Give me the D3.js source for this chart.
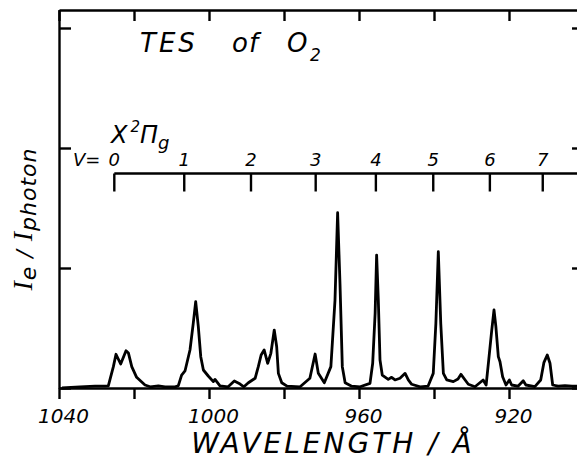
<!DOCTYPE html>
<html>
<head>
<meta charset="utf-8">
<script src="https://cdn.jsdelivr.net/npm/d3@7"></script>
<style>
    html, body { margin: 0; padding: 0; background: #fff; }
    svg { display: block; }
    .lbl { font-family: "DejaVu Sans", sans-serif; font-style: italic; fill: #000; }
</style>
</head>
<body>
<div id="chart"></div>
<script>
// wavelength (Å) and electron yield
const wavelength = [
    1039.2, 1034.4, 1030.4, 1027.7,
    1026.85, 1025.5, 1024.8, 1023.55, 1022.13, 1021.5, 1020.6, 1019.3, 1017.07, 1015.7, 1013.5, 1011.7, 1009.1,
    1008.2, 1007.3, 1006.4, 1005.07, 1004.2, 1003.55, 1002.85, 1002.2, 1001.5, 1000.2, 998.85, 998.4, 997.07, 994.9, 993.25, 991.7, 990.7,
    989.5, 987.7, 986.85, 986.1, 985.3, 984.35, 983.5, 982.6, 981.95, 981.5, 980.6, 979.2, 975.7,
    973.1, 971.7, 970.85, 969.25, 967.5, 966.4, 965.7, 965.07, 964.45, 963.7, 961.95, 959.7,
    957.07, 956.35, 955.7, 955.3, 954.85, 954.4, 953.8, 952.2, 951.3, 950.4, 949.07, 947.7, 946.85, 945.95, 943.7, 941.6,
    940.2, 939.5, 938.85, 938.2, 937.5, 936.6, 934.85, 933.6, 932.8, 931.7, 930.85, 929.07,
    926.9, 926.1, 925.5, 924.6, 924.0, 923.5, 922.85, 922.4, 921.7, 920.8, 919.9, 919.3, 917.6, 916.2, 915.5, 913.1,
    911.55, 910.7, 909.8, 909.07, 908.35, 906.9, 905.07, 903.2, 901.1, 900
];
const intensity = [
    0.0, 0.01, 0.015, 0.015,
    0.017, 0.178, 0.281, 0.2, 0.311, 0.292, 0.178, 0.089, 0.025, 0.01, 0.017, 0.01, 0.01,
    0.017, 0.108, 0.142, 0.317, 0.539, 0.719, 0.511, 0.261, 0.15, 0.1, 0.053, 0.072, 0.017, 0.01, 0.058, 0.033, 0.01,
    0.044, 0.081, 0.178, 0.275, 0.317, 0.206, 0.289, 0.483, 0.344, 0.122, 0.044, 0.015, 0.01,
    0.081, 0.283, 0.122, 0.044, 0.178, 0.733, 1.461, 0.872, 0.178, 0.044, 0.015, 0.01,
    0.039, 0.206, 0.622, 1.108, 0.733, 0.233, 0.108, 0.072, 0.089, 0.067, 0.081, 0.122, 0.067, 0.031, 0.01, 0.015,
    0.122, 0.539, 1.136, 0.539, 0.122, 0.067, 0.053, 0.075, 0.114, 0.067, 0.031, 0.01,
    0.067, 0.025, 0.206, 0.483, 0.65, 0.511, 0.261, 0.219, 0.094, 0.025, 0.067, 0.025, 0.015, 0.061, 0.025, 0.012,
    0.067, 0.211, 0.275, 0.206, 0.025, 0.015, 0.02, 0.015, 0.015, 0.01
];

const xTicks = [1040, 1020, 1000, 980, 960, 940, 920, 900];
const xTickLabels = [1040, 1000, 960, 920];
const yTicks = [0, 1, 2, 3];

// vibrational levels of the ion, X 2Pi_g
const vLevels = [0, 1, 2, 3, 4, 5, 6, 7];
const vWavelength = [1025.25, 1006.6, 988.8, 971.55, 955.5, 940.2, 925.1, 911.0];

const width = 577;
const height = 465;

function render() {
    const svg = d3.select('#chart')
        .append('svg')
        .attr('width', width)
        .attr('height', height);

    const xScale = d3.scaleLinear()
        .domain([1040, 900])
        .range([59, 584]);

    const yScale = d3.scaleLinear()
        .domain([0, 3.15])
        .range([388, 10]);

    const spectrum = wavelength.map((w, i) => ({ w, v: intensity[i] }));

    // frame: four axes, ticks pointing in (bottom ones point out)
    const bottom = svg.append('g')
        .attr('transform', `translate(0, ${yScale(0)})`)
        .call(d3.axisBottom(xScale)
            .tickValues(xTicks)
            .tickSize(11)
            .tickSizeOuter(0)
            .tickFormat((d) => xTickLabels.includes(d) ? d : ''));

    bottom.selectAll('text')
        .attr('class', 'lbl')
        .attr('font-size', 20)
        .attr('dx', 4)
        .attr('dy', '1.05em');

    svg.append('g')
        .attr('transform', `translate(0, ${yScale.range()[1]})`)
        .call(d3.axisBottom(xScale)
            .tickValues(xTicks)
            .tickSize(11)
            .tickSizeOuter(0)
            .tickFormat(''));

    svg.append('g')
        .attr('transform', `translate(${xScale.range()[0]}, 0)`)
        .call(d3.axisRight(yScale)
            .tickValues(yTicks)
            .tickSize(12)
            .tickSizeOuter(0)
            .tickFormat(''));

    svg.append('g')
        .attr('transform', `translate(${xScale.range()[1]}, 0)`)
        .call(d3.axisLeft(yScale)
            .tickValues(yTicks)
            .tickSize(12)
            .tickSizeOuter(0)
            .tickFormat(''));

    svg.selectAll('.domain, .tick line')
        .attr('stroke', '#000')
        .attr('stroke-width', 2.4);

    // v progression bar
    const vY = 173.5;
    const vBar = svg.append('g').attr('class', 'vbar');

    vBar.append('line')
        .attr('x1', xScale(vWavelength[0]))
        .attr('x2', xScale(900))
        .attr('y1', vY)
        .attr('y2', vY)
        .attr('stroke', '#000')
        .attr('stroke-width', 2.4);

    vBar.selectAll('line.vtick')
        .data(vWavelength)
        .join('line')
        .attr('class', 'vtick')
        .attr('x1', (d) => xScale(d))
        .attr('x2', (d) => xScale(d))
        .attr('y1', vY)
        .attr('y2', vY + 18)
        .attr('stroke', '#000')
        .attr('stroke-width', 2.4);

    vBar.selectAll('text.vnum')
        .data(vLevels)
        .join('text')
        .attr('class', 'lbl vnum')
        .attr('x', (d, i) => xScale(vWavelength[i]))
        .attr('y', 166)
        .attr('text-anchor', 'middle')
        .attr('font-size', 18)
        .text((d) => d);

    svg.append('text')
        .attr('class', 'lbl')
        .attr('x', 73)
        .attr('y', 166)
        .attr('font-size', 18)
        .text('V=');

    // spectrum trace
    const line = d3.line()
        .x((d) => xScale(d.w))
        .y((d) => yScale(d.v));

    svg.append('path')
        .datum(spectrum)
        .attr('d', line)
        .attr('fill', 'none')
        .attr('stroke', '#000')
        .attr('stroke-width', 2.8)
        .attr('stroke-linejoin', 'round');

    // titles
    const titleWords = [['TES', 140], ['of', 232], ['O', 287]];
    svg.selectAll('text.title')
        .data(titleWords)
        .join('text')
        .attr('class', 'lbl title')
        .attr('x', (d) => d[1])
        .attr('y', 52)
        .attr('font-size', 26)
        .attr('letter-spacing', (d) => d[0] === 'TES' ? 3 : 1)
        .text((d) => d[0]);

    svg.append('text')
        .attr('class', 'lbl')
        .attr('x', 310)
        .attr('y', 61)
        .attr('font-size', 17)
        .text('2');

    const state = svg.append('text')
        .attr('class', 'lbl')
        .attr('x', 111)
        .attr('y', 143)
        .attr('font-size', 24);
    state.append('tspan').text('X');
    state.append('tspan').attr('font-size', 15).attr('dy', -11).attr('dx', 3).text('2');
    state.append('tspan').attr('dy', 11).text('Π');
    state.append('tspan').attr('font-size', 18).attr('dy', 6).text('g');

    svg.append('text')
        .attr('class', 'lbl')
        .attr('x', 333)
        .attr('y', 453)
        .attr('text-anchor', 'middle')
        .attr('font-size', 28)
        .attr('letter-spacing', 3)
        .text('WAVELENGTH / Å');

    const yLabel = svg.append('text')
        .attr('class', 'lbl')
        .attr('transform', 'translate(32, 219) rotate(-90)')
        .attr('text-anchor', 'middle')
        .attr('font-size', 22)
        .attr('letter-spacing', 1);
    yLabel.append('tspan').attr('font-family', '"Liberation Serif", serif').attr('font-size', 28).text('I');
    yLabel.append('tspan').attr('dy', 4).text('e');
    yLabel.append('tspan').attr('dy', -4).text(' / ');
    yLabel.append('tspan').attr('font-family', '"Liberation Serif", serif').attr('font-size', 28).text('I');
    yLabel.append('tspan').attr('dy', 4).text('photon');
}

render();
</script>
</body>
</html>
